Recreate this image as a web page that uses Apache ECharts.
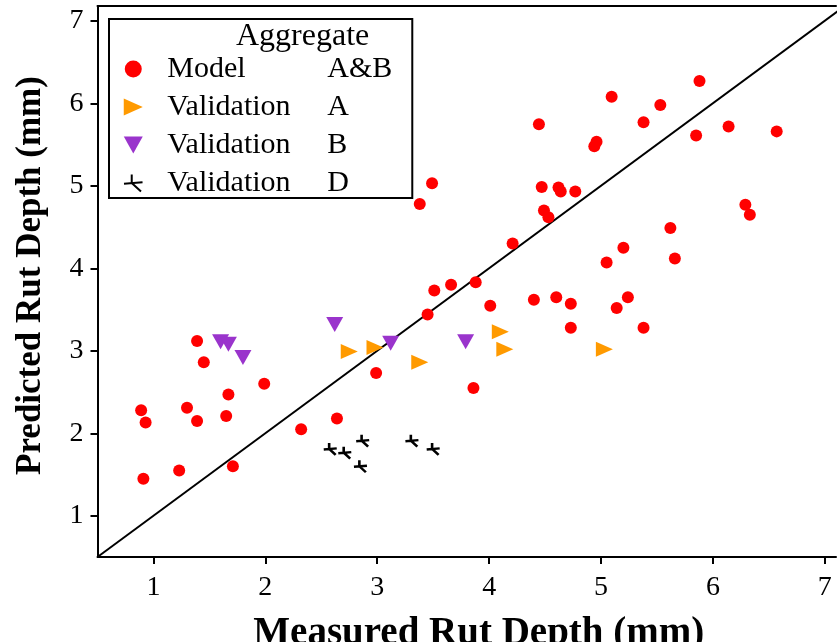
<!DOCTYPE html>
<html>
<head>
<meta charset="utf-8">
<script src="https://cdn.jsdelivr.net/npm/echarts@6/dist/echarts.min.js"></script>
<style>html,body{margin:0;padding:0;background:#fff}#c{width:837px;height:642px}</style>
</head>
<body>
<div id="c"></div>
<script>
// ---- data ----
const modelX = [0.89,0.93,0.91,1.23,1.30,1.39,1.39,1.45,1.65,1.67,1.71,1.99,2.32,2.64,2.99,3.38,3.49,3.45,3.51,3.66,3.86,3.88,4.01,4.21,4.40,4.445,4.47,4.49,4.53,4.60,4.62,4.64,4.73,4.73,4.77,4.94,4.96,5.05,5.095,5.14,5.20,5.24,5.38,5.38,5.53,5.62,5.66,5.85,5.88,6.14,6.29,6.33,6.57];
const modelY = [2.28,2.13,1.45,1.55,2.31,3.12,2.15,2.86,2.21,2.47,1.60,2.60,2.05,2.18,2.73,4.78,5.03,3.44,3.73,3.80,2.55,3.83,3.545,4.30,3.62,5.745,4.985,4.70,4.62,3.65,4.98,4.93,3.57,3.28,4.93,5.48,5.535,4.07,6.08,3.52,4.25,3.65,5.77,3.28,5.98,4.49,4.12,5.61,6.27,5.72,4.77,4.65,5.66];
const valAX = [2.75,2.98,3.38,4.10,4.14,5.03];
const valAY = [2.99,3.04,2.86,3.23,3.02,3.02];
const valBX = [1.60,1.67,1.80,2.62,3.12,3.79];
const valBY = [3.11,3.08,2.92,3.32,3.09,3.11];
const valDX = [2.58,2.71,2.87,2.85,3.31,3.50];
const valDY = [1.81,1.765,1.91,1.60,1.91,1.81];
const equalityLine = [0.5, 7.2];
const tickValues = [1,2,3,4,5,6,7];
const seriesNames = ['Model A&B','Validation A','Validation B','Validation D'];
const legendLabels = ['Model','Validation','Validation','Validation'];
const aggregateLabels = ['A&B','A','B','D'];
const legendTitle = 'Aggregate';
const xTitle = 'Measured Rut Depth (mm)';
const yTitle = 'Predicted Rut Depth (mm)';

const zip = (xs, ys) => xs.map((x, i) => [x, ys[i]]);
const serif = 'Liberation Serif, Times New Roman, serif';
const dPath = 'path://M0,6 L12,5 M5,5.5 L5,0 M5,5.5 L11,11';
const rightTri = 'path://M0,0 L17,7.5 L0,15 Z';
const downTri = 'path://M0,0 L17,0 L8.5,15 Z';

const chart = echarts.init(document.getElementById('c'), null, {renderer: 'canvas'});
chart.setOption({
  animation: false,
  backgroundColor: '#fff',
  title: {
    text: legendTitle, left: 236, top: 21, padding: 0,
    textStyle: {fontFamily: serif, fontSize: 32, fontWeight: 'normal', color: '#000'},
    z: 20
  },
  legend: {
    orient: 'vertical', left: 109, top: 19,
    padding: [35, 20, 0, 14],
    borderColor: '#000', borderWidth: 2, backgroundColor: '#fff',
    itemWidth: 19, itemHeight: 17, itemGap: 8,
    data: [
      {name: seriesNames[0], icon: 'circle', itemStyle: {color: '#ff0000'}},
      {name: seriesNames[1], icon: rightTri},
      {name: seriesNames[2], icon: downTri},
      {name: seriesNames[3]}
    ],
    formatter: function (name) {
      const i = seriesNames.indexOf(name);
      return '{a|' + legendLabels[i] + '}{b|' + aggregateLabels[i] + '}';
    },
    textStyle: {
      fontFamily: serif, fontSize: 30, color: '#000',
      rich: {
        a: {fontFamily: serif, fontSize: 30, color: '#000', width: 160, padding: [0, 0, 0, 19.5], lineHeight: 32},
        b: {fontFamily: serif, fontSize: 30, color: '#000', lineHeight: 32}
      }
    },
    z: 10
  },
  grid: {left: 97.5, right: 1, top: 6, bottom: 85, outerBoundsMode: 'none', containLabel: false},
  xAxis: [{
    type: 'value', min: 0.5, max: 7.1, position: 'bottom',
    name: xTitle, nameLocation: 'middle', nameGap: 57,
    nameTextStyle: {fontFamily: serif, fontSize: 39, fontWeight: 'bold', color: '#000', padding: [0, 0, 0, 24]},
    axisLine: {show: true, lineStyle: {color: '#000', width: 2}},
    axisTick: {show: true, inside: false, length: 7, lineStyle: {color: '#000', width: 2}, customValues: tickValues},
    axisLabel: {fontFamily: serif, fontSize: 28, color: '#000', margin: 17, customValues: tickValues},
    splitLine: {show: false}
  }, {
    type: 'value', min: 0.5, max: 7.1, position: 'top',
    axisLine: {show: true, lineStyle: {color: '#000', width: 2}},
    axisTick: {show: false}, axisLabel: {show: false}, splitLine: {show: false}
  }],
  yAxis: {
    type: 'value', min: 0.5, max: 7.18,
    name: yTitle, nameLocation: 'middle', nameGap: 49, nameRotate: 90,
    nameTextStyle: {fontFamily: serif, fontSize: 35, fontWeight: 'bold', color: '#000', padding: [0, 0, 0, 12]},
    axisLine: {show: true, lineStyle: {color: '#000', width: 2}},
    axisTick: {show: true, inside: false, length: 7, lineStyle: {color: '#000', width: 2}, customValues: tickValues},
    axisLabel: {fontFamily: serif, fontSize: 28, color: '#000', margin: 14, customValues: tickValues},
    splitLine: {show: false}
  },
  series: [
    {
      type: 'line', data: zip(equalityLine, equalityLine), symbol: 'none', silent: true,
      lineStyle: {color: '#000', width: 2}, clip: true, z: 1, legendHoverLink: false
    },
    {
      name: seriesNames[0], type: 'scatter', data: zip(modelX, modelY),
      symbol: 'circle', symbolSize: 12, itemStyle: {color: '#ff0000', opacity: 1}, z: 3
    },
    {
      name: seriesNames[1], type: 'scatter', data: zip(valAX, valAY),
      symbol: 'triangle', symbolRotate: -90, symbolSize: [15, 17], itemStyle: {color: '#ff9a00', opacity: 1}, z: 3
    },
    {
      name: seriesNames[2], type: 'scatter', data: zip(valBX, valBY),
      symbol: 'triangle', symbolRotate: 180, symbolSize: [17, 15], itemStyle: {color: '#9a34cc', opacity: 1}, z: 3
    },
    {
      name: seriesNames[3], type: 'scatter', data: zip(valDX, valDY),
      symbol: dPath, symbolSize: [13, 12], itemStyle: {color: '#000', borderColor: '#000', borderWidth: 2.5, opacity: 1}, z: 3
    }
  ]
});
</script>
</body>
</html>
